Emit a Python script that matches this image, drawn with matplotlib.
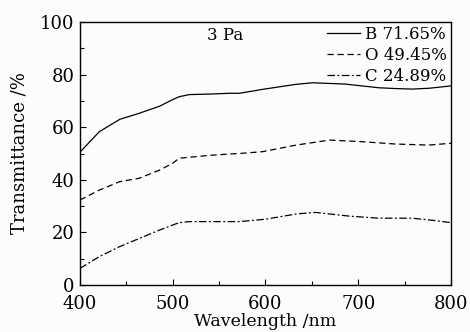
import matplotlib
matplotlib.use("Agg")
import matplotlib.pyplot as plt
from matplotlib.ticker import MultipleLocator

plt.rcParams['font.family'] = ['DejaVu Serif']
plt.rcParams['mathtext.fontset'] = 'dejavuserif'

wl_b = [400, 421, 443, 464, 486, 500, 507, 518, 540, 561, 572, 597, 633, 651, 686, 704, 722, 740, 758, 776, 800]
val_b = [50.5, 58.3, 63.0, 65.3, 68.0, 70.5, 71.6, 72.4, 72.6, 72.9, 72.9, 74.4, 76.3, 76.9, 76.4, 75.7, 75.0, 74.7, 74.5, 74.8, 75.7]

wl_o = [400, 421, 443, 464, 486, 500, 507, 540, 561, 572, 597, 633, 669, 704, 740, 776, 800]
val_o = [32.3, 36.1, 39.3, 40.6, 43.7, 46.3, 48.2, 49.3, 49.8, 50.0, 50.7, 53.2, 55.1, 54.5, 53.6, 53.2, 53.9]

wl_c = [400, 421, 443, 464, 486, 500, 507, 518, 561, 572, 600, 633, 654, 690, 722, 758, 780, 800]
val_c = [6.3, 10.8, 14.6, 17.7, 20.9, 22.8, 23.7, 24.1, 24.1, 24.1, 25.0, 27.0, 27.6, 26.2, 25.4, 25.4, 24.6, 23.7]

labels = ['B 71.65%', 'O 49.45%', 'C 24.89%']

fig = plt.figure(figsize=(4.7, 3.32), dpi=100, facecolor='#fcfcfc')
ax = fig.add_axes([0.170, 0.1416, 0.7896, 0.7921])
ax.set_facecolor('#fcfcfc')

ax.plot(wl_b, val_b, color='black', lw=0.9, ls='-', label=labels[0])
ax.plot(wl_o, val_o, color='black', lw=0.9, ls=(0, (5, 3)), label=labels[1])
ax.plot(wl_c, val_c, color='black', lw=0.9, ls=(0, (6, 2, 1.5, 2)), label=labels[2])

ax.set_xlim(400, 800)
ax.set_ylim(0, 100)
ax.xaxis.set_major_locator(MultipleLocator(100))
ax.xaxis.set_minor_locator(MultipleLocator(50))
ax.yaxis.set_major_locator(MultipleLocator(20))
ax.yaxis.set_minor_locator(MultipleLocator(10))
ax.tick_params(which='both', direction='in', top=False, right=False, labelsize=13)
ax.tick_params(axis='x', pad=7)
ax.tick_params(axis='y', pad=4)
ax.tick_params(which='major', length=4, width=0.8)
ax.tick_params(which='minor', length=3, width=0.8)
for s in ax.spines.values():
    s.set_linewidth(1.0)

ax.set_xlabel('Wavelength /nm', fontsize=12.5, labelpad=0)
ax.set_ylabel('Transmittance /%', fontsize=13, labelpad=8)

ax.text(0.342, 0.95, '3 Pa', transform=ax.transAxes, fontsize=12, va='center', ha='left')

leg = ax.legend(loc='upper right', frameon=False, fontsize=12, handlelength=2.0,
                handletextpad=0.3, labelspacing=0.22, borderaxespad=0.15, borderpad=0.1)

fig.savefig('out.png', dpi=100, facecolor=fig.get_facecolor())
